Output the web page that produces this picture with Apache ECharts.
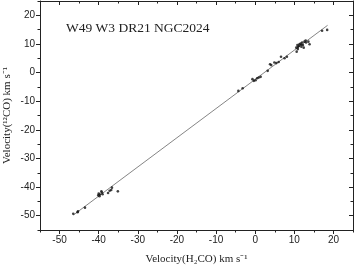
<!DOCTYPE html>
<html>
<head>
<meta charset="utf-8">
<script src="https://cdn.jsdelivr.net/npm/echarts@6/dist/echarts.min.js"></script>
<style>
  html, body { margin: 0; padding: 0; background: #fff; }
  #chart { width: 354px; height: 267px; }
</style>
</head>
<body>
<div id="chart"></div>
<script>
// H2CO velocity vs 12CO velocity (km/s)
const xH2CO = [
  -46.5, -45.3, -45.4, -43.5, -40.1, -40.0, -39.8, -39.3, -39.2, -39.0, -39.7, -37.6, -37.2, -36.8, -36.6, -35.1,
  -4.3, -3.2, -0.7, -0.35, 0.1, 0.5, 0.9, 1.4, 3.2, 3.8, 4.1, 4.9, 5.4, 6.0, 6.6, 7.5, 8.1,
  10.5, 10.6, 10.9, 10.9, 10.8, 11.2, 11.3, 11.6, 11.8, 11.8, 12.0, 12.2, 12.4, 12.6, 12.9, 13.0, 13.6, 13.9, 17.1, 18.4
];
const y12CO = [
  -49.3, -48.5, -48.8, -47.2, -42.9, -42.3, -43.2, -41.5, -41.9, -42.5, -42.6, -42.1, -41.3, -41.0, -40.2, -41.5,
  -6.4, -5.5, -2.3, -2.9, -2.7, -2.0, -1.7, -1.5, 0.6, 2.9, 2.6, 3.5, 3.3, 3.7, 5.5, 5.0, 5.5,
  8.7, 7.3, 8.2, 8.9, 9.6, 9.3, 9.9, 10.1, 9.0, 9.7, 10.5, 9.6, 8.7, 10.8, 11.2, 10.5, 10.8, 9.9, 14.6, 14.9
];
// fitted line end points
const fitX = [-46.5, 18.5];
const fitY = [-49.8, 16.5];

// tick labels (same on both axes)
const majorTicks = [-50, -40, -30, -20, -10, 0, 10, 20];
const minorTicks = [-55, -45, -35, -25, -15, -5, 5, 15, 25];

const titleText = 'W49 W3 DR21 NGC2024';
const xName = 'Velocity(H\u2082CO) km s\u207B\u00B9';
const yName = 'Velocity(\u00B9\u00B2CO) km s\u207B\u00B9';

const points = xH2CO.map((x, i) => [x, y12CO[i]]);
const fitLine = fitX.map((x, i) => [x, fitY[i]]);

const axisColor = '#222';
const sans = 'Liberation Sans';
const serif = 'Liberation Serif';

// one axis; major ones carry line + labels, minor ones only short ticks
const makeAxis = (position, opts) => {
    const major = opts.major;
    const ax = {
        type: 'value',
        position: position,
        min: -55,
        max: 25,
        splitLine: { show: false },
        axisLine: { show: major, onZero: false, lineStyle: { color: axisColor, width: 1 } },
        axisTick: {
            inside: !!opts.inside,
            length: major ? 4 : 2.5,
            customValues: major ? majorTicks : minorTicks,
            lineStyle: { color: axisColor }
        },
        axisLabel: { show: false }
    };
    if (opts.labels) {
        ax.axisLabel = {
            show: true,
            customValues: majorTicks,
            margin: 5,
            color: axisColor,
            fontFamily: sans,
            fontSize: 10
        };
    }
    if (opts.name) {
        ax.name = opts.name;
        ax.nameLocation = 'middle';
        ax.nameGap = opts.nameGap;
        ax.nameMoveOverlap = false;
        ax.nameTextStyle = { fontFamily: serif, fontSize: 11, color: '#222' };
    }
    return ax;
};

const chart = echarts.init(document.getElementById('chart'));
chart.setOption({
    animation: false,
    backgroundColor: '#fff',
    title: {
        text: titleText,
        left: 61,
        top: 16,
        textStyle: { fontFamily: serif, fontSize: 13.5, fontWeight: 'normal', color: '#222' }
    },
    grid: { left: 40, right: 1, top: 1, bottom: 37, containLabel: false, outerBoundsMode: 'none' },
    xAxis: [
        makeAxis('bottom', { major: true, labels: true, name: xName, nameGap: 24 }),
        makeAxis('bottom', { major: false }),
        makeAxis('top', { major: true, inside: true }),
        makeAxis('top', { major: false, inside: true })
    ],
    yAxis: [
        makeAxis('left', { major: true, labels: true, name: yName, nameGap: 27 }),
        makeAxis('left', { major: false }),
        makeAxis('right', { major: true, inside: true }),
        makeAxis('right', { major: false, inside: true })
    ],
    series: [
        {
            type: 'line',
            data: fitLine,
            symbol: 'none',
            lineStyle: { color: '#666', width: 0.8 },
            z: 1
        },
        {
            type: 'scatter',
            data: points,
            symbol: 'circle',
            symbolSize: 2.6,
            itemStyle: { color: '#111' },
            z: 2
        }
    ]
});
</script>
</body>
</html>
